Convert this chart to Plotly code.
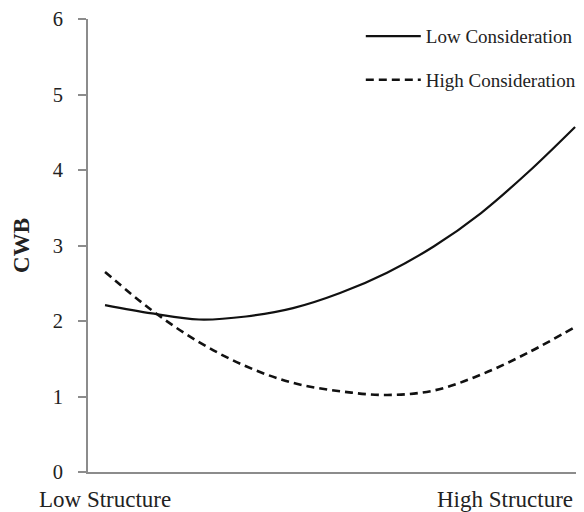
import plotly.graph_objects as go

# Structure level positions (Low -> High), evenly spaced
structure = [0, 1, 2, 3, 4, 5, 6, 7, 8, 9, 10]
low_consideration = [2.21, 2.10, 2.02, 2.06, 2.17, 2.37, 2.64, 2.99, 3.43, 3.97, 4.57]
high_consideration = [2.65, 2.14, 1.72, 1.40, 1.18, 1.07, 1.02, 1.08, 1.29, 1.58, 1.92]
y_ticks = [0, 1, 2, 3, 4, 5, 6]
x_labels = ["Low Structure", "High Structure"]

FONT = "Liberation Serif, Times New Roman, serif"
AXIS_COLOR = "#8c8c8c"

fig = go.Figure()
fig.add_trace(go.Scatter(
    x=structure, y=low_consideration, mode="lines", name="Low Consideration",
    line=dict(color="#111111", width=2.2, shape="spline", smoothing=1.0),
    legendgroup="a"))
fig.add_trace(go.Scatter(
    x=structure, y=high_consideration, mode="lines", name="High Consideration",
    line=dict(color="#111111", width=2.6, dash="8px,5px", shape="spline", smoothing=1.0),
    legendgroup="b"))

fig.update_layout(
    width=576, height=504,
    margin=dict(l=80, r=0, t=11, b=40, autoexpand=False),
    paper_bgcolor="white", plot_bgcolor="white",
    font=dict(family=FONT, color="#222222"),
    showlegend=True,
    legend=dict(x=0.550, xanchor="left", y=1.004, yanchor="top",
                font=dict(family=FONT, size=19, color="#222222"),
                bgcolor="rgba(0,0,0,0)", traceorder="grouped",
                tracegroupgap=16, itemwidth=55),
    xaxis=dict(range=[-0.362, 10.19], showgrid=False, zeroline=False,
               showline=True, linecolor=AXIS_COLOR, linewidth=2,
               showticklabels=False, ticks=""),
    yaxis=dict(range=[0, 6], tickvals=y_ticks, showgrid=False, zeroline=False,
               showline=True, linecolor=AXIS_COLOR, linewidth=2,
               ticks="outside", ticklen=8, tickwidth=2, tickcolor=AXIS_COLOR,
               tickfont=dict(family=FONT, size=20.5, color="#222222"),
               ticklabelstandoff=11, ticklabeloverflow="allow",
               title=dict(text="<b>CWB</b>", standoff=17,
                          font=dict(family=FONT, size=23, color="#222222"))),
)

fig.add_annotation(x=structure[0], y=0, xref="x", yref="y", text=x_labels[0],
                   showarrow=False, xanchor="center", yanchor="top", yshift=-13,
                   font=dict(family=FONT, size=23, color="#222222"))
fig.add_annotation(x=structure[-1], y=0, xref="x", yref="y", text=x_labels[1],
                   showarrow=False, xanchor="right", yanchor="top", yshift=-13,
                   font=dict(family=FONT, size=23, color="#222222"))

fig.write_html("out.html")
